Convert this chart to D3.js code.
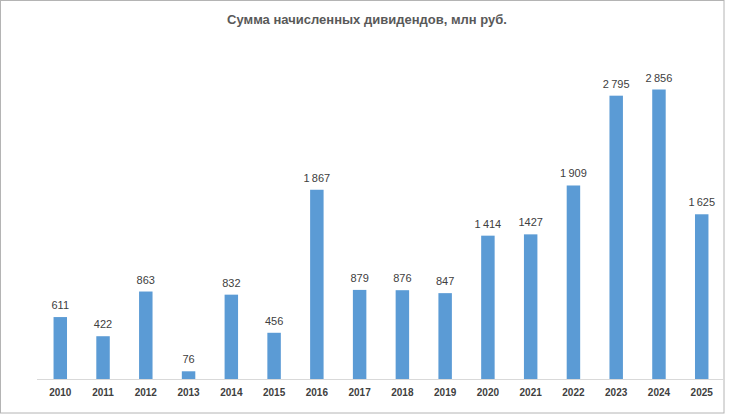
<!DOCTYPE html>
<html lang="ru">
<head>
    <meta charset="UTF-8">
    <title>Сумма начисленных дивидендов</title>
    <style>
        body { margin: 0; background: #fff; }
        svg text { font-family: "Liberation Sans", Arial, sans-serif; }
    </style>
</head>
<body>
    <svg id="chart" width="730" height="415"></svg>
    <script src="https://cdn.jsdelivr.net/npm/d3@7"></script>
    <script>
        // data
        var years = ["2010", "2011", "2012", "2013", "2014", "2015", "2016", "2017",
                     "2018", "2019", "2020", "2021", "2022", "2023", "2024", "2025"];
        var dividends = [611, 422, 863, 76, 832, 456, 1867, 879, 876, 847, 1414, 1427, 1909, 2795, 2856, 1625];
        var valueLabels = ["611", "422", "863", "76", "832", "456", "1\u2009867", "879",
                           "876", "847", "1\u2009414", "1427", "1\u2009909", "2\u2009795", "2\u2009856", "1\u2009625"];

        var svg = d3.select("#chart");
        var baseY = 379;

        // outer frame
        svg.append("rect")
            .attr("x", 0.5).attr("y", 0.5)
            .attr("width", 723.5).attr("height", 412.5)
            .attr("fill", "none")
            .attr("stroke", "#b4b4b4");

        svg.append("text")
            .attr("x", 367).attr("y", 24)
            .attr("text-anchor", "middle")
            .style("font-size", "13px")
            .style("font-weight", "bold")
            .attr("fill", "#595959")
            .text("Сумма начисленных дивидендов, млн руб.");

        var x = d3.scaleBand()
            .domain(years)
            .range([39, 723])
            .paddingInner(0.685)
            .paddingOuter(0.34);

        var y = d3.scaleLinear()
            .domain([0, 2856])
            .range([baseY, 89.5]);

        // bars
        svg.selectAll(".bar")
            .data(dividends)
            .enter().append("rect")
            .attr("class", "bar")
            .attr("x", function(d, i) { return x(years[i]); })
            .attr("y", function(d) { return y(d); })
            .attr("width", x.bandwidth())
            .attr("height", function(d) { return baseY - y(d); })
            .attr("fill", "#5b9bd5");

        // axis line
        svg.append("line")
            .attr("x1", 37).attr("x2", 723)
            .attr("y1", baseY + 0.5).attr("y2", baseY + 0.5)
            .attr("stroke", "#d9d9d9");

        // value labels
        svg.selectAll(".val")
            .data(dividends)
            .enter().append("text")
            .attr("class", "val")
            .attr("x", function(d, i) { return x(years[i]) + x.bandwidth() / 2; })
            .attr("y", function(d) { return y(d) - 8; })
            .attr("text-anchor", "middle")
            .style("font-size", "11px")
            .attr("fill", "#404040")
            .text(function(d, i) { return valueLabels[i]; });

        // year labels
        svg.selectAll(".year")
            .data(years)
            .enter().append("text")
            .attr("class", "year")
            .attr("x", function(d) { return x(d) + x.bandwidth() / 2; })
            .attr("y", 396)
            .attr("text-anchor", "middle")
            .style("font-size", "10px")
            .style("font-weight", "bold")
            .attr("fill", "#404040")
            .text(function(d) { return d; });
    </script>
</body>
</html>
